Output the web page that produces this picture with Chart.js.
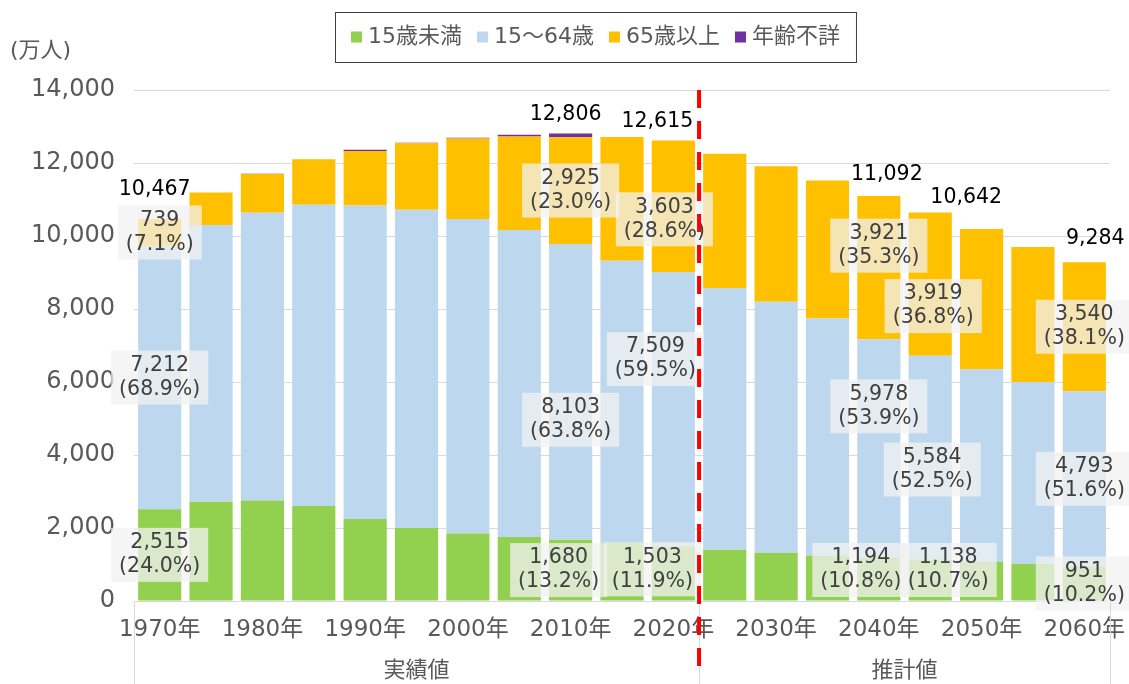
<!DOCTYPE html>
<html lang="ja">
<head>
<meta charset="utf-8">
<title>年齢3区分別人口の推移</title>
<script src="https://cdn.jsdelivr.net/npm/chart.js@4.4.1/dist/chart.umd.min.js"></script>
<style>
  html, body { margin: 0; padding: 0; background: #fff; }
</style>
</head>
<body>
<canvas id="chart" width="1129" height="684"></canvas>
<script>
// 年齢3区分別人口（万人）
const years = ['1970年', '1975年', '1980年', '1985年', '1990年', '1995年', '2000年', '2005年', '2010年', '2015年',
               '2020年', '2025年', '2030年', '2035年', '2040年', '2045年', '2050年', '2055年', '2060年'];
const under15   = [2515, 2722, 2751, 2603, 2249, 2001, 1847, 1752, 1680, 1595, 1503, 1407, 1321, 1246, 1194, 1138, 1077, 1012, 951];
const age15to64 = [7212, 7581, 7884, 8251, 8590, 8717, 8622, 8409, 8103, 7728, 7509, 7170, 6875, 6494, 5978, 5584, 5275, 4986, 4793];
const over65    = [739, 887, 1065, 1247, 1490, 1826, 2201, 2567, 2925, 3387, 3603, 3677, 3716, 3782, 3921, 3919, 3841, 3704, 3540];
const unknownAge = [0, 5, 7, 4, 33, 13, 23, 48, 98, 0, 0, 0, 0, 0, 0, 0, 0, 0, 0];
const totals    = [10467, 11194, 11706, 12105, 12361, 12557, 12693, 12777, 12806, 12709, 12615, 12254, 11913, 11522, 11092, 10642, 10192, 9744, 9284];

const seriesNames  = ['15歳未満', '15～64歳', '65歳以上', '年齢不詳'];
const seriesColors = ['#92D050', '#BDD7EE', '#FFC000', '#7030A0'];

// years that carry value labels, and the two period groups on the axis
const labeledYears = [0, 8, 10, 14, 15, 18];
const groupNames = ['実績値', '推計値'];
const groupLast  = [10, 18];

// hand-moved label boxes (pixel nudges, like the original sheet)
const labelNudge = {
  0:  { total: [-5, -29],  seg: [[0, 0], [0, 0], [0, 0]] },
  8:  { total: [-5, -19],  seg: [[-12, 0], [0, 28], [0, 0]] },
  10: { total: [-16, -19], seg: [[-21, -4], [-18, -50], [-9, 13]] },
  14: { total: [8, -21],   seg: [[-18, -9], [0, -42], [0, -22]] },
  15: { total: [36, -15],  seg: [[18, -10], [2, 12], [3, 22]] },
  18: { total: [11, -23],  seg: [[0, 0], [0, 0], [0, 0]] }
};

const FONT = '"DejaVu Sans", "Noto Sans CJK JP", sans-serif';
const fmt = v => v.toLocaleString('en-US');

const extras = {
  id: 'extras',
  afterDatasetsDraw(chart) {
    const ctx = chart.ctx;
    const x = chart.scales.x, y = chart.scales.y;
    ctx.save();
    ctx.font = '20.5px ' + FONT;
    ctx.textAlign = 'center';
    ctx.textBaseline = 'middle';
    for (let d = 0; d < 3; d++) {
      const meta = chart.getDatasetMeta(d);
      labeledYears.forEach(i => {
        const el = meta.data[i];
        const v = chart.data.datasets[d].data[i];
        const sum = under15[i] + age15to64[i] + over65[i];
        const nd = labelNudge[i].seg[d];
        const cx = el.x + nd[0];
        const cy = (el.y + el.base) / 2 + nd[1];
        const l1 = fmt(v);
        const l2 = '(' + (v / sum * 100).toFixed(1) + '%)';
        const w = Math.max(ctx.measureText(l1).width, ctx.measureText(l2).width) + 16;
        const h = 54;
        ctx.fillStyle = 'rgba(242,242,242,0.75)';
        ctx.fillRect(cx - w / 2, cy - h / 2, w, h);
        ctx.fillStyle = '#404040';
        ctx.fillText(l1, cx, cy - 12);
        ctx.fillText(l2, cx, cy + 12);
      });
    }
    ctx.fillStyle = '#000';
    labeledYears.forEach(i => {
      const nt = labelNudge[i].total;
      ctx.fillText(fmt(totals[i]), x.getPixelForValue(i) + nt[0], y.getPixelForValue(totals[i]) + nt[1]);
    });
    ctx.restore();
  },
  afterDraw(chart) {
    const ctx = chart.ctx;
    const x = chart.scales.x;
    const area = chart.chartArea;
    const H = chart.height;
    ctx.save();

    // group separators and group names under the axis
    ctx.strokeStyle = '#D9D9D9';
    ctx.lineWidth = 1;
    const edges = [-0.5].concat(groupLast.map(g => g + 0.5));
    edges.forEach(e => {
      const px = Math.round(x.getPixelForValue(e)) + 0.5;
      ctx.beginPath();
      ctx.moveTo(px, area.bottom);
      ctx.lineTo(px, H);
      ctx.stroke();
    });
    ctx.fillStyle = '#595959';
    ctx.font = '22px ' + FONT;
    ctx.textAlign = 'center';
    ctx.textBaseline = 'middle';
    groupNames.forEach((g, k) => {
      const mid = x.getPixelForValue((edges[k] + edges[k + 1]) / 2);
      ctx.fillText(g, mid, H - 13);
    });

    // dashed boundary between actual and projected
    const bx = x.getPixelForValue(groupLast[0] + 0.5);
    ctx.strokeStyle = '#FF0000';
    ctx.lineWidth = 4;
    ctx.setLineDash([18, 13]);
    ctx.beginPath();
    ctx.moveTo(bx, area.top);
    ctx.lineTo(bx, H - 6);
    ctx.stroke();
    ctx.setLineDash([]);

    // unit
    ctx.textAlign = 'left';
    ctx.fillStyle = '#595959';
    ctx.font = '22px ' + FONT;
    ctx.fillText('(万人)', 10, 51);

    // legend with frame
    ctx.font = '22px ' + FONT;
    const sq = 11, gapIn = 6, gapOut = 15, padX = 16;
    let total = 0;
    seriesNames.forEach((s, k) => {
      total += sq + gapIn + ctx.measureText(s).width + (k < seriesNames.length - 1 ? gapOut : 0);
    });
    const boxW = total + padX * 2;
    const bxl = Math.round(595.5 - boxW / 2);
    const cyL = 37;
    ctx.strokeStyle = '#404040';
    ctx.lineWidth = 1;
    ctx.strokeRect(bxl + 0.5, 12.5, boxW, 50);
    let px = bxl + padX;
    seriesNames.forEach((s, k) => {
      ctx.fillStyle = seriesColors[k];
      ctx.fillRect(px, cyL - sq / 2, sq, sq);
      px += sq + gapIn;
      ctx.fillStyle = '#595959';
      ctx.fillText(s, px, cyL);
      px += ctx.measureText(s).width + gapOut;
    });
    ctx.restore();
  }
};

Chart.defaults.font.family = FONT;

new Chart(document.getElementById('chart'), {
  type: 'bar',
  data: {
    labels: years,
    datasets: [
      { label: seriesNames[0], data: under15,    backgroundColor: seriesColors[0] },
      { label: seriesNames[1], data: age15to64,  backgroundColor: seriesColors[1] },
      { label: seriesNames[2], data: over65,     backgroundColor: seriesColors[2] },
      { label: seriesNames[3], data: unknownAge, backgroundColor: seriesColors[3] }
    ]
  },
  options: {
    responsive: false,
    animation: false,
    datasets: { bar: { barPercentage: 0.84, categoryPercentage: 1.0, borderWidth: 0 } },
    layout: { padding: { top: 90, right: 19, left: 0, bottom: 0 } },
    plugins: { legend: { display: false }, tooltip: { enabled: false } },
    scales: {
      x: {
        stacked: true,
        grid: { display: false, drawTicks: false },
        border: { display: false },
        ticks: {
          autoSkip: false, maxRotation: 0, padding: 15,
          color: '#595959', font: { size: 23 },
          callback: (v, i) => (i % 2 === 0 ? years[i] : '')
        },
        afterFit: s => { s.height = 83; s.paddingLeft = 0; s.paddingRight = 0; }
      },
      y: {
        stacked: true,
        min: 0, max: 14000,
        grid: { color: '#D9D9D9', drawTicks: false },
        border: { display: false },
        ticks: {
          stepSize: 2000, padding: 19,
          color: '#595959', font: { size: 24 },
          callback: v => fmt(v)
        },
        afterFit: s => { s.width = 134; }
      }
    }
  },
  plugins: [extras]
});
</script>
</body>
</html>
